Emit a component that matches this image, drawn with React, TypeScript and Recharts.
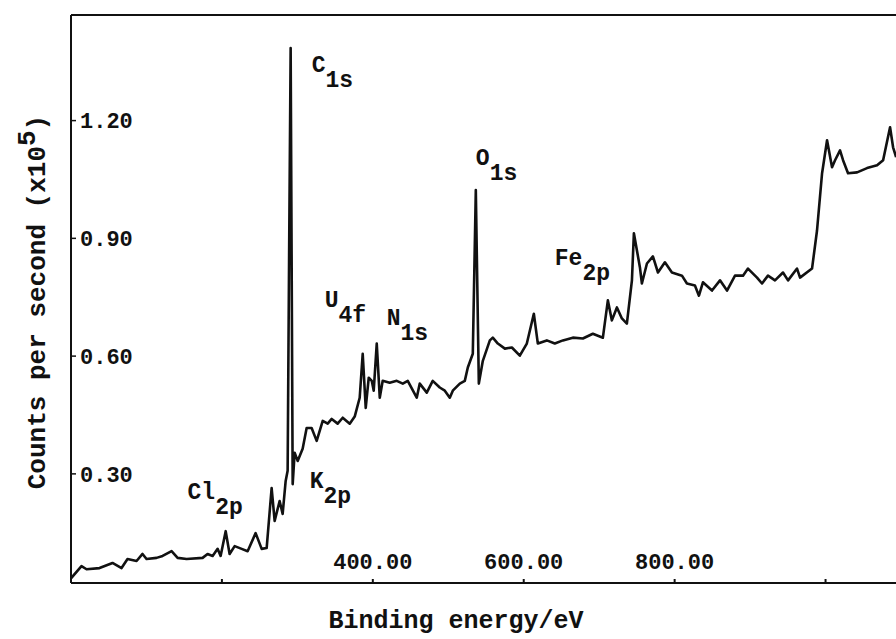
import { LineChart, Line, XAxis, YAxis, ReferenceDot } from "recharts";

// XPS survey spectrum
const energy = [
  // background up to C1s
  0, 13.9, 20.6, 37.8, 55.0, 67.0, 74.9, 86.9, 94.8, 100.1, 113.4, 121.4, 133.3, 141.3, 153.2,
  174.4, 181.0, 187.7, 194.3, 198.3, 205.0, 210.2, 216.9, 226.2, 234.1, 244.7, 252.7, 259.3,
  265.9, 269.9, 276.5, 280.5, 284.5, 287.1, 289.1, 291.1, 293.8, 296.4, 300.4,
  // U4f / N1s region
  307.0, 312.3, 318.9, 325.6, 333.6, 340.2, 345.5, 353.4, 360.1, 369.4, 376.0, 382.6, 386.6,
  390.6, 394.6, 398.6, 401.2, 405.2, 409.2, 413.1, 422.4, 431.7, 439.7, 446.3, 458.2, 462.2,
  471.5, 479.4, 488.7, 495.4, 502.0, 506.0, 515.3, 521.9, 525.9,
  // O1s to Fe2p
  532.5, 536.5, 540.5, 545.8, 555.1, 559.0, 565.7, 575.0, 584.3, 594.8, 604.1, 613.4, 618.7,
  630.6, 641.2, 651.9, 665.1, 678.4, 691.6, 704.9, 711.5, 716.8, 723.5, 730.1, 736.7, 743.4,
  746.0, 754.0, 756.6,
  // plateau after Fe2p
  763.3, 771.2, 777.9, 787.1, 796.4, 809.7, 816.3, 826.9, 832.2, 837.5, 849.5, 860.1, 869.4,
  880.0, 890.6, 897.2, 909.2, 915.8, 923.7, 933.0, 943.6, 950.3, 962.2, 966.2, 982.1, 988.7,
  // step near 1000 eV
  995.4, 1002.0, 1008.6, 1012.6, 1019.2, 1023.2, 1029.8, 1041.8, 1055.0, 1068.3, 1076.3,
  1085.5, 1089.5, 1093.5,
];
const counts = [
  0.034, 0.065, 0.057, 0.060, 0.073, 0.060, 0.083, 0.078, 0.096, 0.083, 0.086, 0.091, 0.103,
  0.086, 0.083,
  0.086, 0.096, 0.091, 0.109, 0.091, 0.154, 0.096, 0.116, 0.109, 0.103, 0.149, 0.109, 0.111,
  0.264, 0.180, 0.231, 0.198, 0.282, 0.308, 0.869, 1.385, 0.274, 0.354, 0.333,
  0.364, 0.417, 0.417, 0.384, 0.435, 0.428, 0.440, 0.428, 0.443, 0.428, 0.446, 0.494, 0.606,
  0.468, 0.545, 0.537, 0.512, 0.632, 0.494, 0.537, 0.532, 0.537, 0.530, 0.537, 0.494, 0.530,
  0.507, 0.537, 0.520, 0.512, 0.494, 0.512, 0.530, 0.537, 0.571,
  0.606, 1.023, 0.530, 0.588, 0.640, 0.647, 0.632, 0.619, 0.622, 0.601, 0.632, 0.708, 0.632,
  0.640, 0.632, 0.640, 0.647, 0.645, 0.657, 0.647, 0.742, 0.691, 0.724, 0.696, 0.683, 0.793,
  0.913, 0.826, 0.785,
  0.836, 0.854, 0.813, 0.839, 0.813, 0.805, 0.785, 0.780, 0.754, 0.788, 0.767, 0.793, 0.767,
  0.805, 0.805, 0.823, 0.800, 0.785, 0.805, 0.793, 0.813, 0.793, 0.823, 0.800, 0.823, 0.920,
  1.066, 1.150, 1.081, 1.099, 1.124, 1.099, 1.066, 1.068, 1.079, 1.086, 1.099,
  1.183, 1.132, 1.107,
];

const xTicks = [200, 400, 600, 800, 1000];
const xTickLabels = ["", "400.00", "600.00", "800.00", ""];
const yTicks = [0.3, 0.6, 0.9, 1.2];
const yTickLabels = ["0.30", "0.60", "0.90", "1.20"];

const peakNames = ["C", "O", "U", "N", "Fe", "Cl", "K"];
const peakSubs = ["1s", "1s", "4f", "1s", "2p", "2p", "2p"];
const peakEnergy = [319, 536.5, 336.2, 418.4, 641.2, 154.5, 316.3];
const peakCounts = [1.324, 1.086, 0.724, 0.678, 0.831, 0.236, 0.264];

const data = energy.map((e, i) => ({ energy: e, counts: counts[i] }));

const FONT = '"Liberation Mono", "DejaVu Sans Mono", monospace';
const INK = "#111";

function PeakLabel({ viewBox, name, sub }: any) {
  if (!viewBox) return null;
  return (
    <text
      x={viewBox.x}
      y={viewBox.y}
      fontFamily={FONT}
      fontWeight="bold"
      fontSize={23}
      fill={INK}
    >
      <tspan>{name}</tspan>
      <tspan dy={15}>{sub}</tspan>
    </text>
  );
}

export default function App() {
  return (
    <div
      style={{
        position: "absolute",
        left: 0,
        top: 0,
        width: 896,
        height: 639,
        overflow: "hidden",
        background: "#fff",
      }}
    >
      <LineChart
        width={920}
        height={639}
        data={data}
        margin={{ top: 14, right: 19, left: 71, bottom: 56 }}
      >
        <XAxis
          dataKey="energy"
          type="number"
          domain={[0, 1100]}
          ticks={xTicks}
          tickFormatter={(v: number) => xTickLabels[xTicks.indexOf(v)] ?? ""}
          mirror
          height={1}
          tickSize={4}
          tickMargin={10}
          axisLine={{ stroke: INK, strokeWidth: 2 }}
          tickLine={{ stroke: INK, strokeWidth: 2 }}
          tick={{ fill: INK, fontFamily: FONT, fontSize: 22, fontWeight: "bold" }}
          allowDataOverflow
        />
        <XAxis
          xAxisId="top"
          orientation="top"
          type="number"
          domain={[0, 1100]}
          height={1}
          tick={false}
          tickLine={false}
          axisLine={{ stroke: INK, strokeWidth: 2 }}
        />
        <YAxis
          type="number"
          domain={[0.022, 1.469]}
          ticks={yTicks}
          tickFormatter={(v: number) => yTickLabels[yTicks.indexOf(v)] ?? ""}
          mirror
          width={1}
          tickSize={5}
          tickMargin={4}
          axisLine={{ stroke: INK, strokeWidth: 2 }}
          tickLine={{ stroke: INK, strokeWidth: 1.5 }}
          tick={{ fill: INK, fontFamily: FONT, fontSize: 22, fontWeight: "bold" }}
          allowDataOverflow
        />
        <Line
          type="linear"
          dataKey="counts"
          stroke={INK}
          strokeWidth={2.6}
          strokeLinejoin="round"
          dot={false}
          activeDot={false}
          isAnimationActive={false}
        />
        {peakNames.map((name, i) => (
          <ReferenceDot
            key={name + i}
            x={peakEnergy[i]}
            y={peakCounts[i]}
            r={0}
            fill="none"
            stroke="none"
            ifOverflow="visible"
            label={(p: any) => <PeakLabel viewBox={p.viewBox} name={name} sub={peakSubs[i]} />}
          />
        ))}
        <text
          x={456}
          y={628}
          textAnchor="middle"
          fontFamily={FONT}
          fontWeight="bold"
          fontSize={25}
          fill={INK}
        >
          Binding energy/eV
        </text>
        <text
          transform="translate(45 302) rotate(-90)"
          textAnchor="middle"
          fontFamily={FONT}
          fontWeight="bold"
          fontSize={26}
          fill={INK}
        >
          Counts per second (x10
          <tspan dy={-10}>5</tspan>
          <tspan dy={10}>)</tspan>
        </text>
      </LineChart>
    </div>
  );
}
